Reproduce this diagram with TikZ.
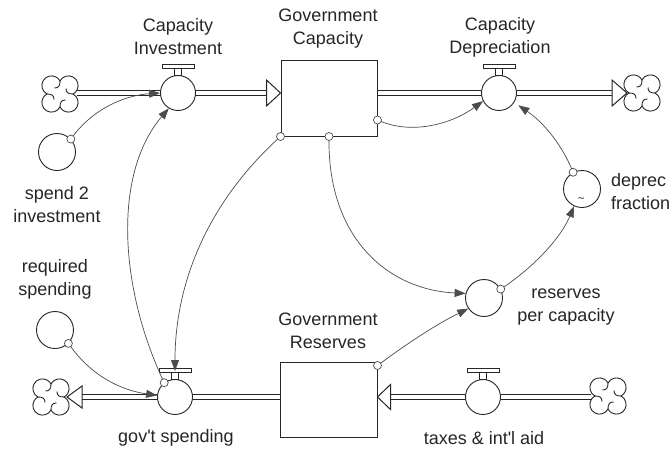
\documentclass[tikz,border=0pt]{standalone}
\usepackage{fontspec}
\setmainfont{Liberation Sans}[Ligatures=TeXOff]
\usetikzlibrary{arrows.meta,calc}
\pgfdeclarelayer{bg}
\pgfsetlayers{bg,main}
\tikzset{
  vcloud/.pic={
    \begin{scope}[x=1pt,y=1pt,line width=0.9pt,draw=black!85]
      \draw (0,13) arc[start angle=152.1,end angle=-62.1,radius=9.62]
        arc[start angle=62.1,end angle=-152.1,radius=9.62]
        arc[start angle=-27.9,end angle=-242.1,radius=9.62]
        arc[start angle=242.1,end angle=27.9,radius=9.62] -- cycle;
      \foreach \a in {0,90,180,270}
        \draw[rotate=\a] (0,13) .. controls (0,8) and (-1.5,6) .. (-5.5,6);
    \end{scope}
  },
  vtop/.pic={
    \draw[fill=white,line width=0.9pt,draw=black!85] (-3.5,-17.5) rectangle (3.5,-25);
    \draw[fill=white,line width=0.9pt,draw=black!85] (-16,-25) rectangle (16,-29);
  }
}
\begin{document}
\begin{tikzpicture}[x=1pt,y=-1pt,
  lbl/.style={font=\fontsize{18}{23}\selectfont, text=black!85, align=center, inner sep=0pt},
  stock/.style={draw=black!85, line width=1pt, fill=white, minimum width=96pt, minimum height=76pt, inner sep=0pt},
  aux/.style={circle, draw=black!85, line width=0.9pt, fill=white, minimum size=37pt, inner sep=0pt},
  valve/.style={circle, draw=black!85, line width=0.9pt, fill=white, minimum size=35pt, inner sep=0pt},
  pipe/.style={draw=black!85, line width=1pt, double=white, double distance=4.5pt},
  conn/.style={draw=black!70, line width=0.7pt, -{Triangle[length=11pt,width=8pt]}},
  tailc/.style={draw=black!70, line width=0.7pt, fill=white},
  hollow/.style={draw=black!85, line width=1pt, fill=white, line join=miter},
]
\useasboundingbox (0,0) rectangle (672,450);
\begin{pgfonlayer}{bg}
  \fill[white] (0,0) rectangle (672,450);
\end{pgfonlayer}

% nodes
\node[valve] (ci) at (178,93) {};
\node[stock] (gc) at (329,98) {};
\node[valve] (cd) at (499,93) {};
\coordinate (cl1) at (60,94);
\coordinate (cl2) at (642,93);
\node[aux] (s2i) at (57,152) {};
\node[aux] (rs) at (55,330) {};
\node[valve] (gs) at (175,397) {};
\node[stock, minimum width=97pt, minimum height=75pt] (gr) at (328.5,399.5) {};
\node[valve] (tx) at (483,397) {};
\coordinate (cl3) at (51,397);
\coordinate (cl4) at (608,396);
\node[aux] (rpc) at (484,298) {};
\node[aux] (df) at (582,189) {};
\node[font=\fontsize{12}{12}\selectfont, inner sep=0pt, text=black!85] (dfs) at (581,200) {\textasciitilde};

% pipes
\begin{pgfonlayer}{bg}
  \draw[pipe] ($(cl1 |- ci)+(17,0)$) -- ($(gc.west |- ci)+(-14,0)$);
  \draw[pipe] (gc.east |- cd) -- ($(cl2)+(-30,0)$);
  \draw[pipe] ($(cl3)+(31,0)$) -- (gr.west |- gs);
  \draw[pipe] ($(gr.east |- tx)+(13,0)$) -- ($(cl4 |- tx)+(-17,0)$);
\end{pgfonlayer}

% clouds
\pic at (cl1) {vcloud};
\pic at (cl2) {vcloud};
\pic at (cl3) {vcloud};
\pic at (cl4) {vcloud};

% hollow flow arrows
\draw[hollow] (gc.west |- ci) -- ++(-14,-13) -- ++(0,26) -- cycle;
\draw[hollow] ($(cl2)+(-15,0)$) -- ++(-15,-13) -- ++(0,26) -- cycle;
\draw[hollow] ($(cl3)+(16,0)$) -- ++(15,-11) -- ++(0,22) -- cycle;
\draw[hollow] (gr.east |- tx) -- ++(13,-12.5) -- ++(0,25) -- cycle;

% valve tops
\pic at (ci) {vtop};
\pic at (cd) {vtop};
\pic at (gs) {vtop};
\pic at (tx) {vtop};

% connectors
\draw[conn] (s2i.43) .. controls (95,105) and (130,95) .. (ci.180);
\draw[conn] (gs.127) .. controls (120,290) and (112,175) .. (ci.239);
\draw[conn] (gc.south west) .. controls (210,200) and (175,280) .. ([yshift=8pt]gs.north);
\draw[conn] ([yshift=-22pt]gc.east) .. controls (410,135) and (450,125) .. (cd.207);
\draw[conn, shorten >=5pt] (df.118) .. controls (560,140) and (540,120) .. (cd.-32);
\draw[conn] (gc.south) .. controls (327,240) and (390,290) .. (rpc.166);
\draw[conn] ([yshift=-4pt]gr.north east) .. controls (405,345) and (435,325) .. (rpc.214);
\draw[conn] (rpc.28) .. controls (530,270) and (560,240) .. (df.245);
\draw[conn] (rs.-45) .. controls (90,375) and (120,390) .. (gs.175);

% connector tails
\draw[tailc] (s2i.43) circle[radius=4pt];
\draw[tailc] (gs.127) circle[radius=4pt];
\draw[tailc] (gc.south west) circle[radius=4pt];
\draw[tailc] ([yshift=-22pt]gc.east) circle[radius=4pt];
\draw[tailc] (df.118) circle[radius=4pt];
\draw[tailc] (gc.south) circle[radius=4pt];
\draw[tailc] ([yshift=-4pt]gr.north east) circle[radius=4pt];
\draw[tailc] (rpc.28) circle[radius=4pt];
\draw[tailc] (rs.-45) circle[radius=4pt];

% labels
\node[lbl] (ciL) at (178,37) {Capacity\\Investment};
\node[lbl] (gcL) at (328,29) {Government\\Capacity};
\node[lbl] (cdL) at (500,37) {Capacity\\Depreciation};
\node[lbl] (s2iL) at (57,205) {spend 2\\investment};
\node[lbl] (rsL) at (55,279) {required\\spending};
\node[lbl] (grL) at (328,331) {Government\\Reserves};
\node[lbl] (rpcL) at (566,307) {reserves\\per capacity};
\node[lbl, align=left, anchor=west] (dfL) at (611,192) {deprec\\fraction};
\node[lbl] (gsL) at (176,438) {gov't spending};
\node[lbl] (txL) at (484,438) {taxes \& int'l aid};
\end{tikzpicture}
\end{document}
